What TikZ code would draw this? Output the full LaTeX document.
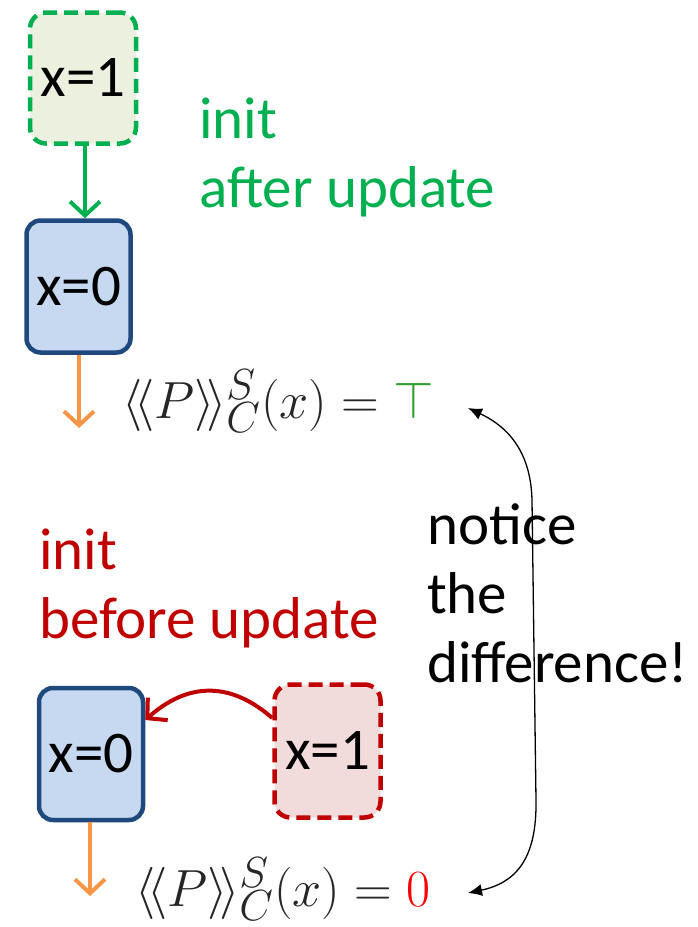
\documentclass[tikz,border=0pt]{standalone}
\usepackage{fontspec}
\setmainfont{Carlito}
\usetikzlibrary{arrows.meta}
\definecolor{okgreen}{HTML}{00B050}
\definecolor{okfill}{HTML}{EBF1DE}
\definecolor{badred}{HTML}{C00000}
\definecolor{badfill}{HTML}{F2DCDB}
\definecolor{stateblue}{HTML}{1F497D}
\definecolor{statefill}{HTML}{C6D9F1}
\definecolor{flow}{HTML}{F79646}
\definecolor{topgreen}{HTML}{2E9E2E}
\tikzset{
  x=1pt, y=-1pt,
  boxtext/.style={font=\fontsize{59}{64}\selectfont, text=black},
  statebox/.style={boxtext, draw=stateblue, fill=statefill, line width=4.5pt,
    rounded corners=14pt, minimum width=104pt, minimum height=132pt, inner sep=0pt},
  initok/.style={boxtext, draw=okgreen, fill=okfill, line width=4.5pt, dash pattern=on 14pt off 7pt,
    rounded corners=16pt, minimum width=106pt, minimum height=131pt, inner sep=0pt},
  initbad/.style={boxtext, draw=badred, fill=badfill, line width=4.5pt, dash pattern=on 14pt off 7pt,
    rounded corners=16pt, minimum width=106pt, minimum height=133pt, inner sep=0pt},
  % multi-line labels are placed by the baseline of their last line
  label/.style={font=\fontsize{59}{69}\selectfont, align=left, inner sep=0pt, anchor=base west},
  formula/.style={font=\Huge, scale=2.1, text=black!85, inner sep=0pt, anchor=base west},
  flowarrow/.style={draw=flow, line width=4pt, -{Straight Barb[length=14pt,width=30pt,line width=4pt]}},
  okarrow/.style={draw=okgreen, line width=4pt, -{Straight Barb[length=14pt,width=30pt,line width=4pt]}},
  badarrow/.style={draw=badred, line width=4pt, -{Straight Barb[length=14pt,width=30pt,line width=4pt]}},
  notearrow/.style={draw=black, line width=1.3pt, {Latex[length=14pt,width=12pt]}-{Latex[length=14pt,width=12pt]}}
}
\begin{document}
\begin{tikzpicture}
\useasboundingbox (0,0) rectangle (698,927);

% upper scenario: init after update
\node[initok] (initA) at (83,78) {x=1};
\node[statebox] (stateA) at (78.5,286.5) {x=0};
\draw[okarrow] (initA.south -| 85,0) -- (stateA.north -| 85,0);
\node[label, text=okgreen] (textA) at (199,207) {init\\after update};
\coordinate (flowA) at (79,428);
\draw[flowarrow] (stateA.south -| 79,0) -- (flowA);
\node[formula] (resA) at (122,418)
  {$\langle\!\langle P\rangle\!\rangle^{S}_{C}(x) = {\color{topgreen}\top}$};

% lower scenario: init before update
\node[label, text=badred] (textB) at (39,638) {init\\before update};
\node[statebox] (stateB) at (91,754) {x=0};
\node[initbad] (initB) at (327.5,751) {x=1};
\draw[badarrow] (initB.west |- 0,718) .. controls (238,688) and (195,676) .. (stateB.east |- 0,720);
\coordinate (flowB) at (90,896);
\draw[flowarrow] (stateB.south -| 90,0) -- (flowB);
\node[formula] (resB) at (135,906)
  {$\langle\!\langle P\rangle\!\rangle^{S}_{C}(x) = {\color{red}0}$};

% the remark linking the two results
\node[label, text=black] (note) at (427,682) {notice\\the\\difference!};
\coordinate (tipA) at (468,408);
\coordinate (tipB) at (468,893);
\draw[notearrow] (tipA) .. controls (515,430) and (531,460) .. (532,500)
  -- (536,800) .. controls (537,860) and (515,883) .. (tipB);
\end{tikzpicture}
\end{document}
